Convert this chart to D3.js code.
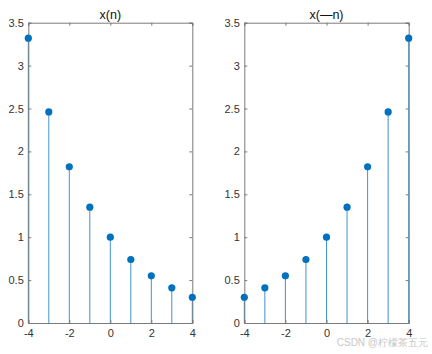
<!DOCTYPE html>
<html><head><meta charset="utf-8">
<script src="https://cdn.jsdelivr.net/npm/d3@7"></script>
<style>body{margin:0;background:#fff}svg{display:block}text{font-family:"Liberation Sans",Arial,sans-serif}</style>
</head><body>
<svg id="c" width="432" height="354"></svg>
<script>
const n = [-4, -3, -2, -1, 0, 1, 2, 3, 4];
const xn = [3.32, 2.46, 1.82, 1.35, 1.00, 0.74, 0.55, 0.41, 0.30];
const xminusn = [0.30, 0.41, 0.55, 0.74, 1.00, 1.35, 1.82, 2.46, 3.32];
const xTicks = [-4, -2, 0, 2, 4];
const yTicks = [0, 0.5, 1, 1.5, 2, 2.5, 3, 3.5];
const titles = ["x(n)", "x(\u2014n)"];

(function () {
const svg = d3.select("#c");
const panels = [
  {left: 28.3, right: 192.3, vals: xn, title: titles[0]},
  {left: 244.3, right: 408.7, vals: xminusn, title: titles[1]}
];
const plotTop = 22.7, plotBottom = 323;
const axCol = "#7a7a7a", txtCol = "#333", stemCol = "#0072BD";

panels.forEach(p => {
  const x = d3.scaleLinear().domain([-4, 4]).range([p.left, p.right]);
  const y = d3.scaleLinear().domain([0, 3.5]).range([plotBottom, plotTop]);
  const g = svg.append("g");
  g.selectAll("line.stem").data(n).enter().append("line")
    .attr("x1", d => x(d)).attr("x2", d => x(d))
    .attr("y1", y(0)).attr("y2", (d, i) => y(p.vals[i]))
    .attr("stroke", stemCol).attr("stroke-width", 1).attr("opacity", 0.75);
  const tl = 3;
  const bot = d3.axisBottom(x).tickValues(xTicks).tickSize(-tl).tickPadding(6).tickFormat(d => String(d));
  const topA = d3.axisTop(x).tickValues(xTicks).tickSize(-tl).tickFormat("");
  const lef = d3.axisLeft(y).tickValues(yTicks).tickSize(-tl).tickPadding(4.5).tickFormat(d => String(d));
  const rig = d3.axisRight(y).tickValues(yTicks).tickSize(-tl).tickFormat("");
  [[bot, `translate(0,${plotBottom})`], [topA, `translate(0,${plotTop})`], [lef, `translate(${p.left},0)`], [rig, `translate(${p.right},0)`]].forEach(([a, t]) => {
    const ag = g.append("g").attr("transform", t).call(a);
    ag.select(".domain").attr("stroke", axCol).attr("stroke-width", 1);
    ag.selectAll(".tick line").attr("stroke", axCol);
    ag.selectAll(".tick text").attr("fill", txtCol).attr("font-size", 11)
      .attr("font-family", "Liberation Sans, Arial, sans-serif");
  });
  g.selectAll("circle").data(n).enter().append("circle")
    .attr("cx", d => x(d)).attr("cy", (d, i) => y(p.vals[i]))
    .attr("r", 3.6).attr("fill", stemCol);
  g.append("text").attr("x", (p.left + p.right) / 2).attr("y", 18.5)
    .attr("text-anchor", "middle").attr("font-size", 12.5).attr("fill", "#111").text(p.title);
});

svg.append("text").attr("x", 428).attr("y", 346).attr("text-anchor", "end")
  .attr("font-size", 10).attr("fill", "#c8c8c8")
  .attr("font-family", "Liberation Sans, 'Noto Sans CJK SC', sans-serif")
  .text("CSDN @柠檬茶五元");
})();
</script>
</body></html>
